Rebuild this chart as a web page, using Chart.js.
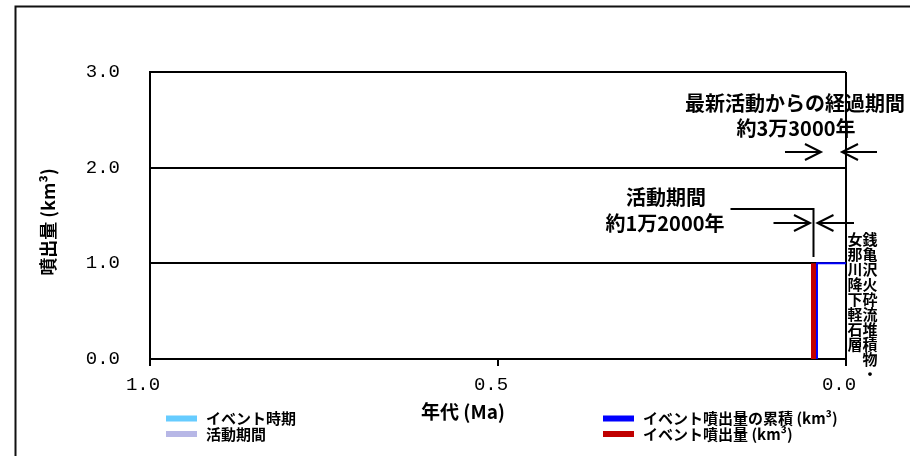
<!DOCTYPE html>
<html><head><meta charset="utf-8">
<script src="https://cdn.jsdelivr.net/npm/chart.js@4"></script>
<style>html,body{margin:0;padding:0;background:#fff}#wrap{width:910px;height:456px}</style>
</head><body><div id="wrap"><canvas id="c" width="910" height="456"></canvas></div>
<script>
// ---- data ----
const xTickValues = [1.0, 0.5, 0.0];
const yTickValues = [0.0, 1.0, 2.0, 3.0];
const eventAges = [0.0467];
const eventVolumes = [1.0];
const cumulativeAges = [0.0417, 0.0417, 0.0];
const cumulativeVolumes = [0.0, 1.0, 1.0];
const eventLabelColumns = ['銭亀沢火砕流堆積物・', '女那川降下軽石層'];
const legendLabels = ['イベント時期', '活動期間', 'イベント噴出量の累積 (km³)', 'イベント噴出量 (km³)'];
const legendColors = ['#66CCFF', '#B7B7E6', '#0000FF', '#C00000'];
const latestText = ['最新活動からの経過期間', '約3万3000年'];
const activityText = ['活動期間', '約1万2000年'];
const xTitle = '年代 (Ma)';
const yTitle = '噴出量 (km³)';

const JP = '"Noto Sans CJK JP", sans-serif';
const MONO = '"Liberation Mono", monospace';

function arrow(ctx, tail, tip, y) {
  const d = tip > tail ? 1 : -1;
  ctx.beginPath();
  ctx.moveTo(tail, y); ctx.lineTo(tip, y);
  ctx.moveTo(tip - d * 16, y - 8); ctx.lineTo(tip, y); ctx.lineTo(tip - d * 16, y + 8);
  ctx.stroke();
}

const extras = {
  id: 'extras',
  afterDraw(chart) {
    const ctx = chart.ctx, xs = chart.scales.x, ys = chart.scales.y, a = chart.chartArea;
    ctx.save();
    // outer frame
    ctx.strokeStyle = '#111'; ctx.lineWidth = 2;
    ctx.beginPath(); ctx.moveTo(15.5, 456); ctx.lineTo(15.5, 6.5); ctx.lineTo(910, 6.5); ctx.stroke();

    ctx.fillStyle = '#000'; ctx.strokeStyle = '#000'; ctx.lineWidth = 2;
    ctx.textBaseline = 'middle'; ctx.textAlign = 'center';
    // axis titles
    ctx.font = 'bold 19px ' + JP;
    ctx.fillText(xTitle, 463, 412);
    ctx.save();
    ctx.translate(48, 222); ctx.rotate(-Math.PI / 2);
    ctx.font = 'bold 18px ' + JP;
    ctx.fillText(yTitle, 0, 0);
    ctx.restore();

    // annotation: latest activity
    const rx = xs.getPixelForValue(eventAges[0]);
    const bx = xs.getPixelForValue(cumulativeAges[0]);
    const zx = xs.getPixelForValue(0);
    ctx.font = 'bold 20px ' + JP;
    ctx.fillText(latestText[0], 795, 103);
    ctx.fillText(latestText[1], 796, 128);
    arrow(ctx, bx - 32, bx + 4, 152);
    arrow(ctx, zx + 31, zx - 4, 152);

    // annotation: activity period
    ctx.fillText(activityText[0], 666, 197);
    ctx.fillText(activityText[1], 665, 223);
    ctx.beginPath();
    ctx.moveTo(rx - 83, 209); ctx.lineTo(rx + 1, 209);
    ctx.moveTo(rx, 209); ctx.lineTo(rx, 257);
    ctx.stroke();
    arrow(ctx, rx - 40, rx - 3.5, 223);
    arrow(ctx, bx + 37, bx + 0.5, 223);

    // vertical event label
    ctx.font = 'bold 15px ' + JP;
    const colX = [zx + 24, zx + 9];
    eventLabelColumns.forEach((s, c) => {
      [...s].forEach((ch, i) => ctx.fillText(ch, colX[c], 239.5 + i * 15));
    });

    // legend
    const lg = [[166, 418.5], [166, 434], [603, 418.5], [603, 434]];
    ctx.textAlign = 'left';
    ctx.font = 'bold 15px ' + JP;
    legendLabels.forEach((t, i) => {
      ctx.fillStyle = legendColors[i];
      ctx.fillRect(lg[i][0], lg[i][1] - 3, 31, 6);
      ctx.fillStyle = '#000';
      ctx.fillText(t, lg[i][0] + 40, lg[i][1]);
    });
    ctx.restore();
  }
};

new Chart(document.getElementById('c'), {
  type: 'scatter',
  data: {
    datasets: [
      { label: legendLabels[3],
        data: eventAges.flatMap((a, i) => [{ x: a, y: 0 }, { x: a, y: eventVolumes[i] }, { x: null, y: null }]),
        showLine: true, borderColor: legendColors[3], borderWidth: 5, pointRadius: 0, borderCapStyle: 'butt', spanGaps: false },
      { label: legendLabels[2],
        data: cumulativeAges.map((a, i) => ({ x: a, y: cumulativeVolumes[i] })),
        showLine: true, borderColor: legendColors[2], borderWidth: 2, pointRadius: 0, stepped: false }
    ]
  },
  options: {
    responsive: false, animation: false, devicePixelRatio: 1,
    layout: { padding: { left: 0, right: 64, top: 72, bottom: 0 } },
    plugins: { legend: { display: false }, tooltip: { enabled: false } },
    scales: {
      x: {
        type: 'linear', reverse: true, min: 0, max: 1,
        afterBuildTicks: s => { s.ticks = xTickValues.map(v => ({ value: v })); },
        afterFit: s => { s.height = 97; },
        grid: { color: c => (c.tick && c.tick.value === 0 ? '#000' : 'rgba(0,0,0,0)'), lineWidth: 2,
                drawOnChartArea: true, drawTicks: true, tickLength: 7, tickColor: '#000', tickWidth: 2 },
        border: { display: true, color: '#000', width: 2 },
        ticks: { font: { family: MONO, size: 19 }, color: '#000', padding: 8, labelOffset: -7,
                 maxRotation: 0, autoSkip: false, callback: v => Number(v).toFixed(1) }
      },
      y: {
        min: 0, max: 3,
        afterBuildTicks: s => { s.ticks = yTickValues.map(v => ({ value: v })); },
        afterFit: s => { s.width = 150; },
        grid: { color: '#000', lineWidth: 2, drawTicks: false },
        border: { display: true, color: '#000', width: 2 },
        ticks: { font: { family: MONO, size: 19 }, color: '#000', padding: 30, callback: v => Number(v).toFixed(1) }
      }
    }
  },
  plugins: [extras]
});
</script>
</body></html>
